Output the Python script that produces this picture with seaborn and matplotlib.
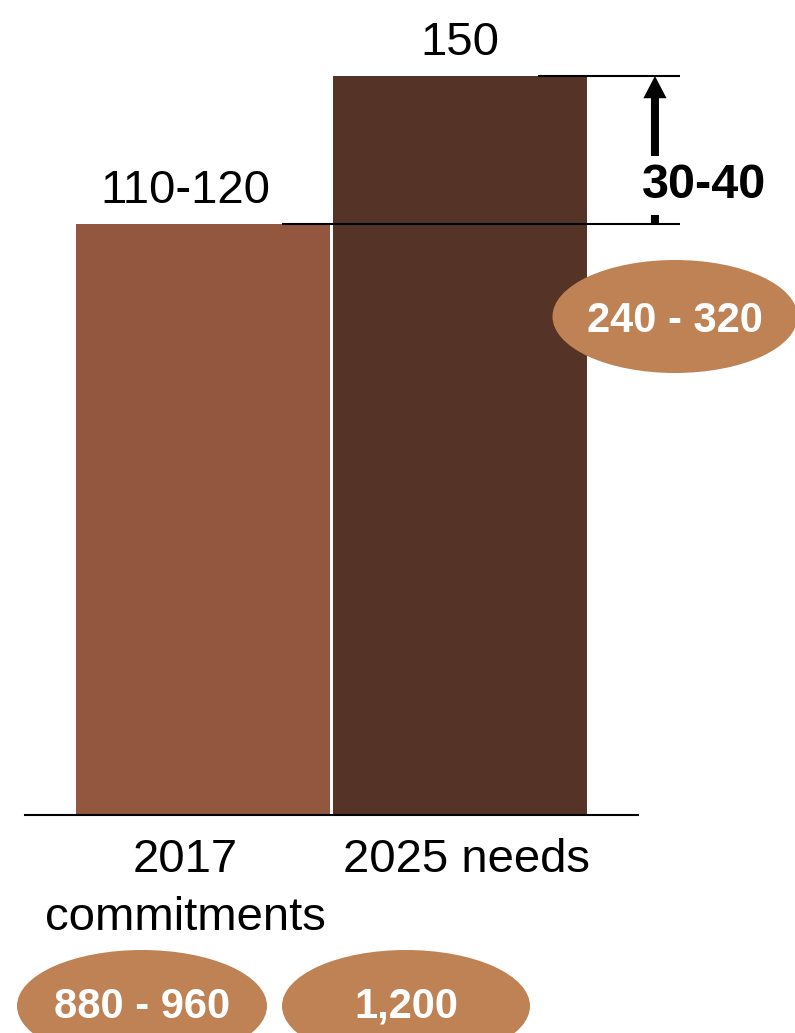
import matplotlib
matplotlib.use("Agg")
import matplotlib.pyplot as plt
import matplotlib.transforms as mtransforms
from matplotlib.patches import Ellipse
import seaborn as sns
import pandas as pd

# Data
categories = ["2017\ncommitments", "2025 needs"]
values = [120, 150]
value_labels = ["110-120", "150"]
gap_label = "30-40"
total_labels = ["880 - 960", "1,200"]
gap_total_label = "240 - 320"

bar_colors = ["#93573F", "#553427"]
oval_color = "#BF8254"

sns.set_theme(style="white")
plt.rcParams["font.family"] = ["Liberation Sans", "DejaVu Sans"]

W, H = 795, 1033
fig = plt.figure(figsize=(W / 100, H / 100), dpi=100)
fig.patch.set_facecolor("white")

# main axes: baseline at y=815 px, value 150 at y=76 px
ax = fig.add_axes([25 / W, (H - 815) / H, 613 / W, 739 / H])
df = pd.DataFrame({"cat": categories, "val": values})
sns.barplot(data=df, x="cat", y="val", hue="cat", palette=bar_colors,
            saturation=1, width=0.992, linewidth=0, legend=False, ax=ax, zorder=2)
ax.set_xlim(-0.693, 1.693)
ax.set_ylim(0, 150)
ax.set_xlabel("")
ax.set_ylabel("")
ax.set_yticks([])
for side in ["top", "right", "left"]:
    ax.spines[side].set_visible(False)
ax.spines["bottom"].set_color("black")
ax.spines["bottom"].set_linewidth(1.5)
ax.spines["bottom"].set_zorder(3)
ax.tick_params(axis="x", length=0, pad=16.5, labelsize=34, labelcolor="black")
ax.set_facecolor("none")

# shift category labels horizontally
shifts = [-18, 7]
for lab, dx in zip(ax.get_xticklabels(), shifts):
    lab.set_linespacing(1.42)
    lab.set_transform(lab.get_transform() +
                      mtransforms.ScaledTranslation(dx / 100, 0, fig.dpi_scale_trans))

# value labels above bars
anns = ax.bar_label(ax.containers[0], labels=[value_labels[0]], padding=8,
                    fontsize=34, color="black")
anns += ax.bar_label(ax.containers[1], labels=[value_labels[1]], padding=8,
                     fontsize=34, color="black")
anns[0].xyann = (-12.5, 8)

# reference lines at the two bar tops
ax.plot([0.307, 1.856], [values[0], values[0]], color="black", lw=1.5,
        clip_on=False, zorder=4, solid_capstyle="butt")
ax.plot([1.304, 1.856], [values[1], values[1]], color="black", lw=1.5,
        clip_on=False, zorder=4, solid_capstyle="butt")

# gap arrow
ax.annotate("", xy=(1.759, values[1]), xytext=(1.759, values[0]),
            arrowprops=dict(arrowstyle="simple,head_length=0.5,head_width=0.52,tail_width=0.18",
                            mutation_scale=32, color="black", shrinkA=0, shrinkB=0, lw=0),
            annotation_clip=False, zorder=4)
ax.text(1.95, 127.8, gap_label, ha="center", va="center", fontsize=35,
        fontweight="bold", color="black", zorder=6, clip_on=False,
        bbox=dict(boxstyle="square,pad=0.15", fc="white", ec="none"))

# overlay in pixel coordinates for the oval callouts
ov = fig.add_axes([0, 0, 1, 1])
ov.set_xlim(0, W)
ov.set_ylim(H, 0)
ov.axis("off")
ovals = [((675, 316.5), 245, 113, 321.5, gap_total_label),
         ((142, 1006), 250, 112, 1006.5, total_labels[0]),
         ((406, 1006), 248, 112, 1006.5, total_labels[1])]
for (cx, cy), w, h, ty, txt in ovals:
    ov.add_patch(Ellipse((cx, cy), w, h, facecolor=oval_color, edgecolor="none"))
    ov.text(cx, ty, txt, ha="center", va="center", fontsize=30,
            fontweight="bold", color="white")

fig.savefig("out.png", dpi=100, facecolor="white")
